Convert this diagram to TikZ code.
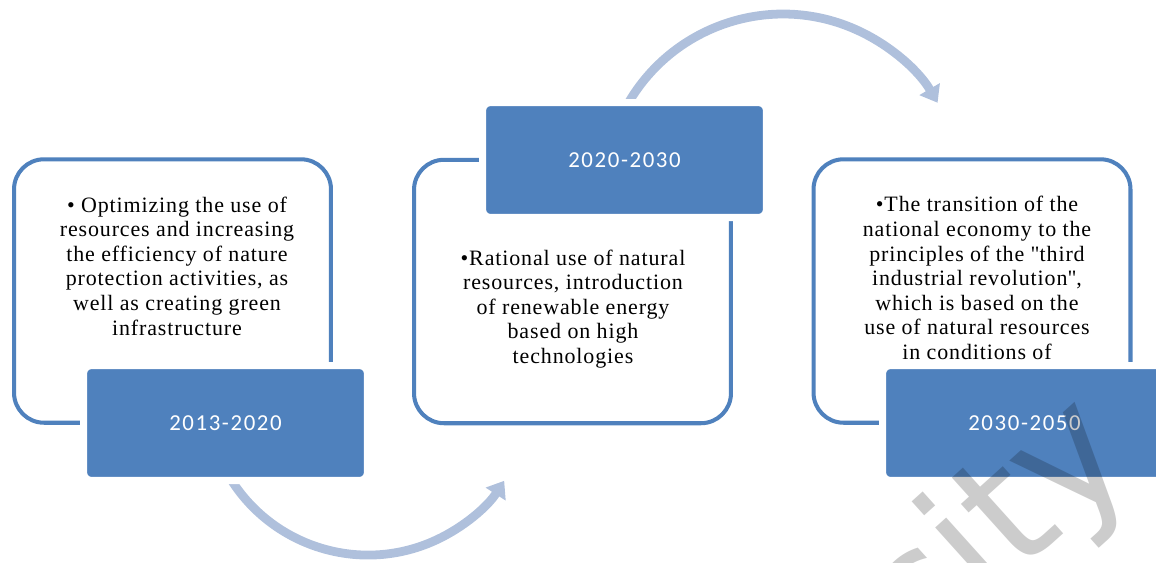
\documentclass[tikz,border=0pt]{standalone}
\usepackage{fontspec}
\setmainfont[LetterSpace=4]{Liberation Serif}
\newfontfamily\qfont[LetterSpace=4]{Liberation Serif}
\newfontfamily\hdrfont[LetterSpace=7]{Carlito}
\newfontfamily\wmfont{DejaVu Sans}
\usetikzlibrary{arrows.meta}
\definecolor{hdrblue}{HTML}{4F81BD}
\definecolor{arrblue}{HTML}{AFC0DC}
\newcommand{\sq}{{\qfont"}}
\begin{document}
\begin{tikzpicture}[x=0.02cm,y=-0.02cm,
  panel/.style={draw=hdrblue, line width=2.3pt, fill=white, rounded corners=0.6cm,
    minimum width=6.34cm, minimum height=5.27cm, inner sep=0pt},
  header/.style={fill=hdrblue, draw=white, line width=4pt, rounded corners=0.16cm,
    minimum width=5.68cm, minimum height=2.3cm, inner sep=0pt, text=white,
    font=\hdrfont\fontsize{13}{15}\selectfont},
  bodytext/.style={align=center, inner sep=0pt, font=\fontsize{12.5}{14}\selectfont},
  cyclearrow/.style={draw=arrblue, line width=5pt, -{Triangle[length=9pt,width=13pt]}},
  watermark/.style={rotate=42, text=black, text opacity=0.2, inner sep=0pt,
    font=\wmfont\fontsize{94}{94}\selectfont}]
\useasboundingbox (0,0) rectangle (1156,562);
\clip (0,0) rectangle (1156,562);
% arrows
\coordinate (a1s) at (221.2,461.5);
\coordinate (a2s) at (620.8,117.4);
\draw[cyclearrow] (a1s) arc[start angle=155, end angle=32.8, radius=162];
\draw[cyclearrow] (a2s) arc[start angle=205, end angle=329.7, radius=179];
% panels
\node[panel] (p1) at (172.5,291) {};
\node[panel] (p2) at (572.5,291.5) {};
\node[panel] (p3) at (972,291) {};
% headers
\node[header] (h1) at (225.5,423) {2013-2020};
\node[header] (h2) at (624.5,160) {2020-2030};
\node[header] (h3) at (1024.5,423) {2030-2050};
% texts
\node[bodytext] (t1) at (177,266) {• Optimizing the use of\\resources and increasing\\the efficiency  of nature\\protection activities, as\\well as creating green\\infrastructure};
\node[bodytext] (t2) at (573,309) {•Rational use of natural\\resources, introduction\\of renewable energy\\based on high\\technologies};
\node[bodytext] (t3) at (977,278) {•The transition of the\\national economy to the\\principles of the \sq third\\industrial revolution\sq,\\which is based on the\\use of natural resources\\in conditions of};
% watermark
\node[watermark, anchor=base] (wm) at (1028,566) {city};
\end{tikzpicture}
\end{document}
